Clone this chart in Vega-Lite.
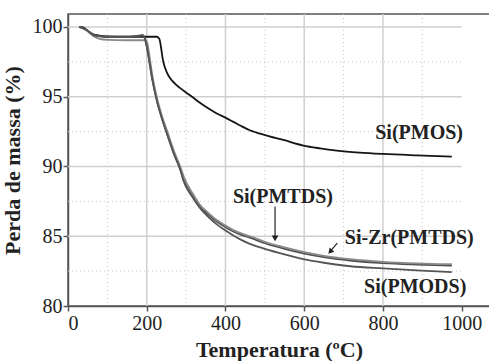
{
  "$schema": "https://vega.github.io/schema/vega-lite/v6.json",
  "width": 422,
  "height": 292,
  "autosize": "none",
  "padding": {"left": 68, "top": 14, "right": 0, "bottom": 55},
  "background": "white",
  "config": {
    "view": {"stroke": "#555", "strokeWidth": 1.5},
    "font": "Times New Roman"
  },
  "datasets": {
    "curves": [
      {"series": "Si(PMOS)", "t": 28, "m": 100}, {"series": "Si(PMOS)", "t": 40, "m": 99.95}, {"series": "Si(PMOS)", "t": 47, "m": 99.8}, {"series": "Si(PMOS)", "t": 55, "m": 99.6}, {"series": "Si(PMOS)", "t": 64, "m": 99.48}, {"series": "Si(PMOS)", "t": 80, "m": 99.38}, {"series": "Si(PMOS)", "t": 98, "m": 99.32}, {"series": "Si(PMOS)", "t": 150, "m": 99.3}, {"series": "Si(PMOS)", "t": 200, "m": 99.3}, {"series": "Si(PMOS)", "t": 226, "m": 99.3}, {"series": "Si(PMOS)", "t": 232, "m": 99.15}, {"series": "Si(PMOS)", "t": 236, "m": 98.6}, {"series": "Si(PMOS)", "t": 240, "m": 97.8}, {"series": "Si(PMOS)", "t": 245, "m": 97.2}, {"series": "Si(PMOS)", "t": 251, "m": 96.75}, {"series": "Si(PMOS)", "t": 260, "m": 96.3}, {"series": "Si(PMOS)", "t": 275, "m": 95.85}, {"series": "Si(PMOS)", "t": 293, "m": 95.45}, {"series": "Si(PMOS)", "t": 315, "m": 95.0}, {"series": "Si(PMOS)", "t": 336, "m": 94.55}, {"series": "Si(PMOS)", "t": 360, "m": 94.1}, {"series": "Si(PMOS)", "t": 378, "m": 93.8}, {"series": "Si(PMOS)", "t": 400, "m": 93.5}, {"series": "Si(PMOS)", "t": 420, "m": 93.2}, {"series": "Si(PMOS)", "t": 440, "m": 92.9}, {"series": "Si(PMOS)", "t": 462, "m": 92.6}, {"series": "Si(PMOS)", "t": 500, "m": 92.25}, {"series": "Si(PMOS)", "t": 547, "m": 91.9}, {"series": "Si(PMOS)", "t": 598, "m": 91.5}, {"series": "Si(PMOS)", "t": 640, "m": 91.3}, {"series": "Si(PMOS)", "t": 683, "m": 91.14}, {"series": "Si(PMOS)", "t": 740, "m": 91.0}, {"series": "Si(PMOS)", "t": 801, "m": 90.9}, {"series": "Si(PMOS)", "t": 886, "m": 90.8}, {"series": "Si(PMOS)", "t": 975, "m": 90.71},

      {"series": "Si(PMTDS)", "t": 28, "m": 100}, {"series": "Si(PMTDS)", "t": 47, "m": 99.8}, {"series": "Si(PMTDS)", "t": 64, "m": 99.45}, {"series": "Si(PMTDS)", "t": 80, "m": 99.35}, {"series": "Si(PMTDS)", "t": 100, "m": 99.3}, {"series": "Si(PMTDS)", "t": 150, "m": 99.3}, {"series": "Si(PMTDS)", "t": 185, "m": 99.4}, {"series": "Si(PMTDS)", "t": 190, "m": 99.42}, {"series": "Si(PMTDS)", "t": 195, "m": 99.2}, {"series": "Si(PMTDS)", "t": 200, "m": 98.6}, {"series": "Si(PMTDS)", "t": 205, "m": 97.8}, {"series": "Si(PMTDS)", "t": 213, "m": 96.4}, {"series": "Si(PMTDS)", "t": 225, "m": 94.8}, {"series": "Si(PMTDS)", "t": 237, "m": 93.6}, {"series": "Si(PMTDS)", "t": 251, "m": 92.4}, {"series": "Si(PMTDS)", "t": 268, "m": 91.0}, {"series": "Si(PMTDS)", "t": 285, "m": 89.8}, {"series": "Si(PMTDS)", "t": 293, "m": 89.1}, {"series": "Si(PMTDS)", "t": 314, "m": 88.0}, {"series": "Si(PMTDS)", "t": 336, "m": 87.1}, {"series": "Si(PMTDS)", "t": 357, "m": 86.55}, {"series": "Si(PMTDS)", "t": 378, "m": 86.05}, {"series": "Si(PMTDS)", "t": 400, "m": 85.65}, {"series": "Si(PMTDS)", "t": 420, "m": 85.34}, {"series": "Si(PMTDS)", "t": 440, "m": 85.1}, {"series": "Si(PMTDS)", "t": 462, "m": 84.9}, {"series": "Si(PMTDS)", "t": 500, "m": 84.5}, {"series": "Si(PMTDS)", "t": 550, "m": 84.1}, {"series": "Si(PMTDS)", "t": 598, "m": 83.78}, {"series": "Si(PMTDS)", "t": 650, "m": 83.5}, {"series": "Si(PMTDS)", "t": 717, "m": 83.26}, {"series": "Si(PMTDS)", "t": 801, "m": 83.07}, {"series": "Si(PMTDS)", "t": 886, "m": 82.97}, {"series": "Si(PMTDS)", "t": 975, "m": 82.9},

      {"series": "Si-Zr(PMTDS)", "t": 28, "m": 100}, {"series": "Si-Zr(PMTDS)", "t": 47, "m": 99.75}, {"series": "Si-Zr(PMTDS)", "t": 64, "m": 99.35}, {"series": "Si-Zr(PMTDS)", "t": 80, "m": 99.15}, {"series": "Si-Zr(PMTDS)", "t": 100, "m": 99.08}, {"series": "Si-Zr(PMTDS)", "t": 150, "m": 99.05}, {"series": "Si-Zr(PMTDS)", "t": 195, "m": 99.05}, {"series": "Si-Zr(PMTDS)", "t": 200, "m": 98.95}, {"series": "Si-Zr(PMTDS)", "t": 204, "m": 98.5}, {"series": "Si-Zr(PMTDS)", "t": 208, "m": 97.7}, {"series": "Si-Zr(PMTDS)", "t": 215, "m": 96.4}, {"series": "Si-Zr(PMTDS)", "t": 227, "m": 94.8}, {"series": "Si-Zr(PMTDS)", "t": 239, "m": 93.6}, {"series": "Si-Zr(PMTDS)", "t": 253, "m": 92.45}, {"series": "Si-Zr(PMTDS)", "t": 270, "m": 91.05}, {"series": "Si-Zr(PMTDS)", "t": 287, "m": 89.85}, {"series": "Si-Zr(PMTDS)", "t": 295, "m": 89.2}, {"series": "Si-Zr(PMTDS)", "t": 316, "m": 88.1}, {"series": "Si-Zr(PMTDS)", "t": 336, "m": 87.22}, {"series": "Si-Zr(PMTDS)", "t": 357, "m": 86.66}, {"series": "Si-Zr(PMTDS)", "t": 378, "m": 86.16}, {"series": "Si-Zr(PMTDS)", "t": 400, "m": 85.76}, {"series": "Si-Zr(PMTDS)", "t": 420, "m": 85.45}, {"series": "Si-Zr(PMTDS)", "t": 440, "m": 85.2}, {"series": "Si-Zr(PMTDS)", "t": 462, "m": 85.0}, {"series": "Si-Zr(PMTDS)", "t": 500, "m": 84.6}, {"series": "Si-Zr(PMTDS)", "t": 550, "m": 84.2}, {"series": "Si-Zr(PMTDS)", "t": 598, "m": 83.88}, {"series": "Si-Zr(PMTDS)", "t": 650, "m": 83.6}, {"series": "Si-Zr(PMTDS)", "t": 717, "m": 83.36}, {"series": "Si-Zr(PMTDS)", "t": 801, "m": 83.17}, {"series": "Si-Zr(PMTDS)", "t": 886, "m": 83.06}, {"series": "Si-Zr(PMTDS)", "t": 975, "m": 83.0},

      {"series": "Si(PMODS)", "t": 28, "m": 100}, {"series": "Si(PMODS)", "t": 47, "m": 99.78}, {"series": "Si(PMODS)", "t": 64, "m": 99.42}, {"series": "Si(PMODS)", "t": 80, "m": 99.32}, {"series": "Si(PMODS)", "t": 100, "m": 99.28}, {"series": "Si(PMODS)", "t": 150, "m": 99.28}, {"series": "Si(PMODS)", "t": 185, "m": 99.38}, {"series": "Si(PMODS)", "t": 191, "m": 99.4}, {"series": "Si(PMODS)", "t": 196, "m": 99.1}, {"series": "Si(PMODS)", "t": 201, "m": 98.5}, {"series": "Si(PMODS)", "t": 206, "m": 97.7}, {"series": "Si(PMODS)", "t": 214, "m": 96.3}, {"series": "Si(PMODS)", "t": 226, "m": 94.7}, {"series": "Si(PMODS)", "t": 238, "m": 93.5}, {"series": "Si(PMODS)", "t": 252, "m": 92.3}, {"series": "Si(PMODS)", "t": 269, "m": 90.9}, {"series": "Si(PMODS)", "t": 286, "m": 89.7}, {"series": "Si(PMODS)", "t": 293, "m": 89.0}, {"series": "Si(PMODS)", "t": 314, "m": 87.9}, {"series": "Si(PMODS)", "t": 336, "m": 87.0}, {"series": "Si(PMODS)", "t": 357, "m": 86.38}, {"series": "Si(PMODS)", "t": 378, "m": 85.85}, {"series": "Si(PMODS)", "t": 400, "m": 85.42}, {"series": "Si(PMODS)", "t": 420, "m": 85.05}, {"series": "Si(PMODS)", "t": 440, "m": 84.74}, {"series": "Si(PMODS)", "t": 462, "m": 84.45}, {"series": "Si(PMODS)", "t": 500, "m": 84.1}, {"series": "Si(PMODS)", "t": 550, "m": 83.7}, {"series": "Si(PMODS)", "t": 598, "m": 83.36}, {"series": "Si(PMODS)", "t": 650, "m": 83.1}, {"series": "Si(PMODS)", "t": 717, "m": 82.85}, {"series": "Si(PMODS)", "t": 801, "m": 82.69}, {"series": "Si(PMODS)", "t": 886, "m": 82.55}, {"series": "Si(PMODS)", "t": 975, "m": 82.43}
    ],
    "labels": [
      {"label": "Si(PMOS)", "t": 892, "m": 92.4},
      {"label": "Si(PMTDS)", "t": 546, "m": 87.84},
      {"label": "Si-Zr(PMTDS)", "t": 867, "m": 84.86},
      {"label": "Si(PMODS)", "t": 882, "m": 81.35}
    ],
    "arrows": [
      {"name": "a1", "t": 526, "m": 87.13, "t2": 526, "m2": 84.75},
      {"name": "a2", "t": 684, "m": 84.51, "t2": 664, "m2": 83.85}
    ]
  },
  "layer": [
    {
      "data": {"values": [{"g": 200}, {"g": 400}, {"g": 600}, {"g": 800}]},
      "mark": {"type": "rule", "stroke": "#cfcfcf", "strokeWidth": 1.5},
      "encoding": {"x": {"field": "g", "type": "quantitative"}}
    },
    {
      "data": {"values": [{"g": 100}, {"g": 300}, {"g": 500}, {"g": 700}, {"g": 900}]},
      "mark": {"type": "rule", "stroke": "#c8c8c8", "strokeWidth": 1, "strokeDash": [1, 3]},
      "encoding": {"x": {"field": "g", "type": "quantitative"}}
    },
    {
      "data": {"values": [{"g": 85}, {"g": 90}, {"g": 95}, {"g": 100}]},
      "mark": {"type": "rule", "stroke": "#cfcfcf", "strokeWidth": 1.5},
      "encoding": {
        "y": {"field": "g", "type": "quantitative"},
        "x": {"datum": 0, "type": "quantitative"},
        "x2": {"datum": 1000}
      }
    },
    {
      "data": {"values": [{"g": 82.5}, {"g": 87.5}, {"g": 92.5}, {"g": 97.5}]},
      "mark": {"type": "rule", "stroke": "#c8c8c8", "strokeWidth": 1, "strokeDash": [1, 3]},
      "encoding": {
        "y": {"field": "g", "type": "quantitative"},
        "x": {"datum": 0, "type": "quantitative"},
        "x2": {"datum": 1000}
      }
    },
    {
      "data": {"name": "curves"},
      "mark": {"type": "line", "strokeWidth": 1.8, "interpolate": "monotone"},
      "encoding": {
        "x": {
          "field": "t", "type": "quantitative",
          "scale": {"domain": [0, 1072], "nice": false, "zero": false},
          "axis": {
            "values": [0, 200, 400, 600, 800, 1000],
            "format": "d",
            "grid": false,
            "title": "Temperatura (ºC)",
            "titleFont": "Times New Roman", "titleFontSize": 22, "titleFontWeight": "bold", "titleColor": "#222",
            "titlePadding": 6,
            "labelFont": "Times New Roman", "labelFontSize": 20, "labelColor": "#222", "labelPadding": 2,
            "domainColor": "#555", "domainWidth": 1.5, "tickColor": "#555", "tickSize": 5, "tickWidth": 1.5
          }
        },
        "y": {
          "field": "m", "type": "quantitative",
          "scale": {"domain": [80, 100.93], "nice": false, "zero": false},
          "axis": {
            "values": [80, 85, 90, 95, 100],
            "grid": false,
            "title": "Perda de massa (%)",
            "titleFont": "Times New Roman", "titleFontSize": 22, "titleFontWeight": "bold", "titleColor": "#222",
            "titlePadding": 8,
            "labelFont": "Times New Roman", "labelFontSize": 20, "labelColor": "#222", "labelPadding": 1,
            "domainColor": "#555", "domainWidth": 1.5, "tickColor": "#555", "tickSize": 5, "tickWidth": 1.5
          }
        },
        "color": {
          "field": "series", "type": "nominal", "legend": null,
          "scale": {
            "domain": ["Si(PMOS)", "Si(PMTDS)", "Si-Zr(PMTDS)", "Si(PMODS)"],
            "range": ["#151515", "#4e4e4e", "#8a8a8a", "#555555"]
          }
        },
        "detail": {"field": "series"}
      }
    },
    {
      "data": {"name": "labels"},
      "mark": {"type": "text", "font": "Times New Roman", "fontSize": 20, "fontWeight": "bold", "color": "#222", "align": "center", "baseline": "middle"},
      "encoding": {
        "x": {"field": "t", "type": "quantitative"},
        "y": {"field": "m", "type": "quantitative"},
        "text": {"field": "label"}
      }
    },
    {
      "data": {"name": "arrows"},
      "mark": {"type": "rule", "stroke": "#222", "strokeWidth": 1.2},
      "encoding": {
        "x": {"field": "t", "type": "quantitative"},
        "y": {"field": "m", "type": "quantitative"},
        "x2": {"field": "t2"},
        "y2": {"field": "m2"}
      }
    },
    {
      "data": {"values": [{"t": 526, "m": 84.85}]},
      "mark": {"type": "point", "shape": "triangle-down", "filled": true, "size": 45, "color": "#222", "opacity": 1},
      "encoding": {
        "x": {"field": "t", "type": "quantitative"},
        "y": {"field": "m", "type": "quantitative"}
      }
    },
    {
      "data": {"values": [{"t": 666, "m": 83.9}]},
      "mark": {"type": "point", "shape": "triangle-up", "angle": 222, "filled": true, "size": 40, "color": "#222", "opacity": 1},
      "encoding": {
        "x": {"field": "t", "type": "quantitative"},
        "y": {"field": "m", "type": "quantitative"}
      }
    }
  ]
}
